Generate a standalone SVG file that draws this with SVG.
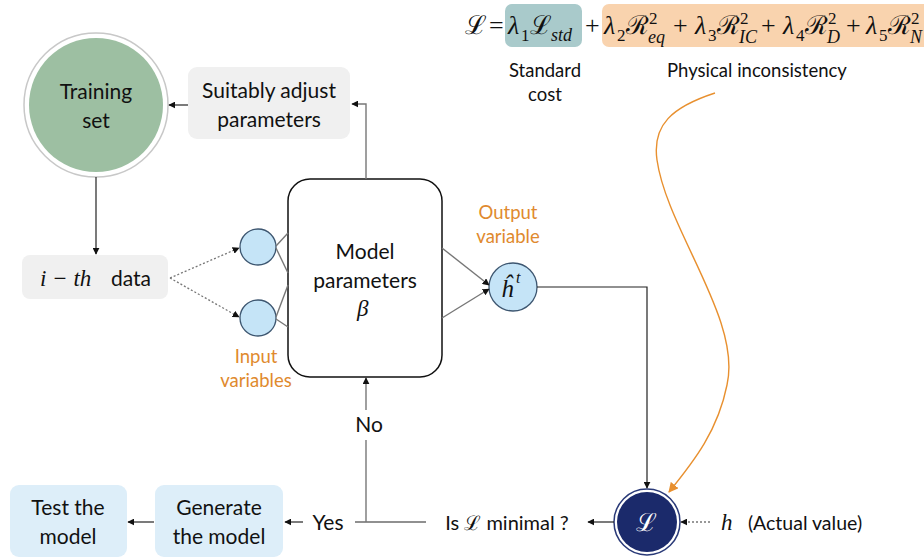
<svg xmlns="http://www.w3.org/2000/svg" width="924" height="558" viewBox="0 0 924 558">
<defs>
<marker id="ah" viewBox="0 0 10 10" refX="9" refY="5" markerWidth="7" markerHeight="7" orient="auto-start-reverse" markerUnits="userSpaceOnUse">
<path d="M0,0 L10,5 L0,10 z" fill="#111"/>
</marker>
<marker id="aho" viewBox="0 0 10 10" refX="9" refY="5" markerWidth="10" markerHeight="10" orient="auto" markerUnits="userSpaceOnUse">
<path d="M0,0 L10,5 L0,10 z" fill="#e8902f"/>
</marker>
</defs>
<style>
.t{font-family:Lato,"Open Sans","Liberation Sans",sans-serif;font-size:21px;fill:#111;text-anchor:middle}
.o{font-family:Lato,"Open Sans","Liberation Sans",sans-serif;font-size:18.5px;fill:#e08a2e;text-anchor:middle}
.s{font-family:Lato,"Open Sans","Liberation Sans",sans-serif;font-size:18.5px;fill:#111;text-anchor:middle}
.m{font-family:"Liberation Serif","DejaVu Serif",serif;font-style:italic;fill:#111}
.f{font-family:"Liberation Serif","DejaVu Serif",serif;font-size:26px;fill:#111}
.f .i{font-style:italic}
.f .sb{font-size:17px}
.f .ss{font-size:18px;font-style:italic}
.ln{stroke:#777;stroke-width:1.4;fill:none}
.lk{stroke:#222;stroke-width:1.2;fill:none}
.dot{stroke:#777;stroke-width:1.3;stroke-dasharray:2 2;fill:none}
.gb{fill:#f0f0f0}
.bb{fill:#ddeef9}
.inp{fill:#c5e4f7;stroke:#3d5670;stroke-width:1.3}
</style>
<rect width="924" height="558" fill="#fff"/>

<g id="formula">
<rect x="505" y="4" width="77" height="43" rx="7" fill="#a9cacb"/>
<rect x="602" y="4" width="330" height="43" rx="7" fill="#f9d3ae"/>
<text class="f"><tspan x="465" y="34">ℒ</tspan><tspan x="489" y="34">=</tspan><tspan class="i" x="508" y="34">λ</tspan><tspan class="sb" x="521" y="41">1</tspan><tspan x="530" y="34">ℒ</tspan><tspan class="ss" x="551" y="41">std</tspan><tspan x="585" y="34">+</tspan></text>
<text class="f"><tspan class="i" x="604" y="34">λ</tspan><tspan class="sb" x="617" y="41">2</tspan><tspan x="626" y="34">ℛ</tspan><tspan class="sb" x="649" y="24">2</tspan><tspan class="ss" x="648" y="43">eq</tspan><tspan x="673" y="34">+</tspan></text>
<text class="f"><tspan class="i" x="695" y="34">λ</tspan><tspan class="sb" x="708" y="41">3</tspan><tspan x="717" y="34">ℛ</tspan><tspan class="sb" x="740" y="24">2</tspan><tspan class="ss" x="739" y="43">IC</tspan><tspan x="761" y="34">+</tspan></text>
<text class="f"><tspan class="i" x="783" y="34">λ</tspan><tspan class="sb" x="796" y="41">4</tspan><tspan x="805" y="34">ℛ</tspan><tspan class="sb" x="828" y="24">2</tspan><tspan class="ss" x="827" y="43">D</tspan><tspan x="846" y="34">+</tspan></text>
<text class="f"><tspan class="i" x="866" y="34">λ</tspan><tspan class="sb" x="879" y="41">5</tspan><tspan x="888" y="34">ℛ</tspan><tspan class="sb" x="911" y="24">2</tspan><tspan class="ss" x="910" y="43">N</tspan></text>
<text class="s" x="545" y="77">Standard</text>
<text class="s" x="545" y="101">cost</text>
<text class="s" x="757" y="77">Physical inconsistency</text>
</g>

<g id="training">
<circle cx="96" cy="105" r="72" fill="#fff" stroke="#c8c8c8" stroke-width="1.5"/>
<circle cx="96" cy="105" r="67" fill="#9dbfa2"/>
<text class="t" x="96" y="99">Training</text>
<text class="t" x="96" y="128">set</text>
</g>

<g id="adjust">
<rect class="gb" x="188" y="67" width="162" height="72" rx="9"/>
<text class="t" x="269" y="98">Suitably adjust</text>
<text class="t" x="269" y="127">parameters</text>
</g>

<g id="data">
<rect class="gb" x="22" y="255" width="146" height="44" rx="8"/>
<text class="m" x="40" y="286" font-size="23">i − th</text>
<text class="t" x="131" y="286">data</text>
</g>

<g id="in1"><circle class="inp" cx="258" cy="247" r="18"/></g>
<g id="in2"><circle class="inp" cx="258" cy="318" r="18"/></g>
<g id="inlabel">
<text class="o" x="256" y="363">Input</text>
<text class="o" x="256" y="387">variables</text>
</g>

<g id="model">
<rect x="288" y="179" width="154" height="198" rx="22" fill="#fff" stroke="#111" stroke-width="1.5"/>
<text class="t" x="365" y="259">Model</text>
<text class="t" x="365" y="288">parameters</text>
<text class="m" x="357" y="316" font-size="23">β</text>
</g>

<g id="out">
<circle class="inp" cx="513" cy="287" r="24"/>
<text class="m" font-size="25"><tspan x="501" y="297">ĥ</tspan><tspan x="516" y="283" font-size="16">t</tspan></text>
<text class="o" x="508" y="219">Output</text>
<text class="o" x="508" y="243">variable</text>
</g>

<g id="loss">
<circle cx="647" cy="522" r="33" fill="#fff" stroke="#2a3a78" stroke-width="1.5"/>
<circle cx="647" cy="522" r="30" fill="#1b2a6b"/>
<text x="636" y="531" font-size="25" font-family="Liberation Serif,DejaVu Serif,serif" fill="#fff">ℒ</text>
</g>

<g id="actual">
<text class="m" x="721" y="530" font-size="23">h</text>
<text class="s" x="805" y="530" style="font-size:19.5px">(Actual value)</text>
</g>

<g id="question">
<text class="s" x="507" y="530" style="font-size:20px">Is <tspan font-family="Liberation Serif,DejaVu Serif,serif">ℒ</tspan> minimal ?</text>
</g>

<g id="yesno">
<text class="t" x="328" y="530">Yes</text>
<text class="t" x="369" y="432">No</text>
</g>

<g id="generate">
<rect class="bb" x="155" y="485" width="128" height="72" rx="9"/>
<text class="t" x="219" y="515">Generate</text>
<text class="t" x="219" y="544">the model</text>
</g>

<g id="test">
<rect class="bb" x="10" y="485" width="117" height="72" rx="9"/>
<text class="t" x="68" y="515">Test the</text>
<text class="t" x="68" y="544">model</text>
</g>

<g id="connectors">
<line class="lk" x1="188" y1="105" x2="169" y2="105" marker-end="url(#ah)"/>
<polyline class="ln" points="366,179 366,104 352,104" marker-end="url(#ah)"/>
<line class="lk" x1="96" y1="177" x2="96" y2="254" marker-end="url(#ah)"/>
<line class="dot" x1="170" y1="278" x2="239" y2="248" marker-end="url(#ah)"/>
<line class="dot" x1="170" y1="278" x2="239" y2="317" marker-end="url(#ah)"/>
<line class="ln" x1="276" y1="246" x2="288" y2="233"/>
<line class="ln" x1="276" y1="248" x2="288" y2="273"/>
<line class="ln" x1="276" y1="317" x2="288" y2="285"/>
<line class="ln" x1="276" y1="319" x2="288" y2="327"/>
<line class="ln" x1="442" y1="248" x2="489" y2="285" marker-end="url(#ah)"/>
<line class="ln" x1="442" y1="318" x2="489" y2="289" marker-end="url(#ah)"/>
<polyline class="lk" points="537,287 647,287 647,488" marker-end="url(#ah)"/>
<path d="M715,93 C672,107 652,125 657,160 C667,230 742,320 727,385 C718,430 695,460 669,492" stroke="#e8902f" stroke-width="1.4" fill="none" marker-end="url(#aho)"/>
<line class="dot" x1="710" y1="522" x2="681" y2="522" marker-end="url(#ah)"/>
<line class="lk" x1="614" y1="522" x2="588" y2="522" marker-end="url(#ah)"/>
<line class="lk" x1="426" y1="522" x2="355" y2="522"/>
<line class="ln" x1="366" y1="522" x2="366" y2="440"/>
<line class="ln" x1="366" y1="410" x2="366" y2="378" marker-end="url(#ah)"/>
<line class="lk" x1="303" y1="522" x2="285" y2="522" marker-end="url(#ah)"/>
<line class="lk" x1="154" y1="522" x2="128" y2="522" marker-end="url(#ah)"/>
</g>
</svg>
